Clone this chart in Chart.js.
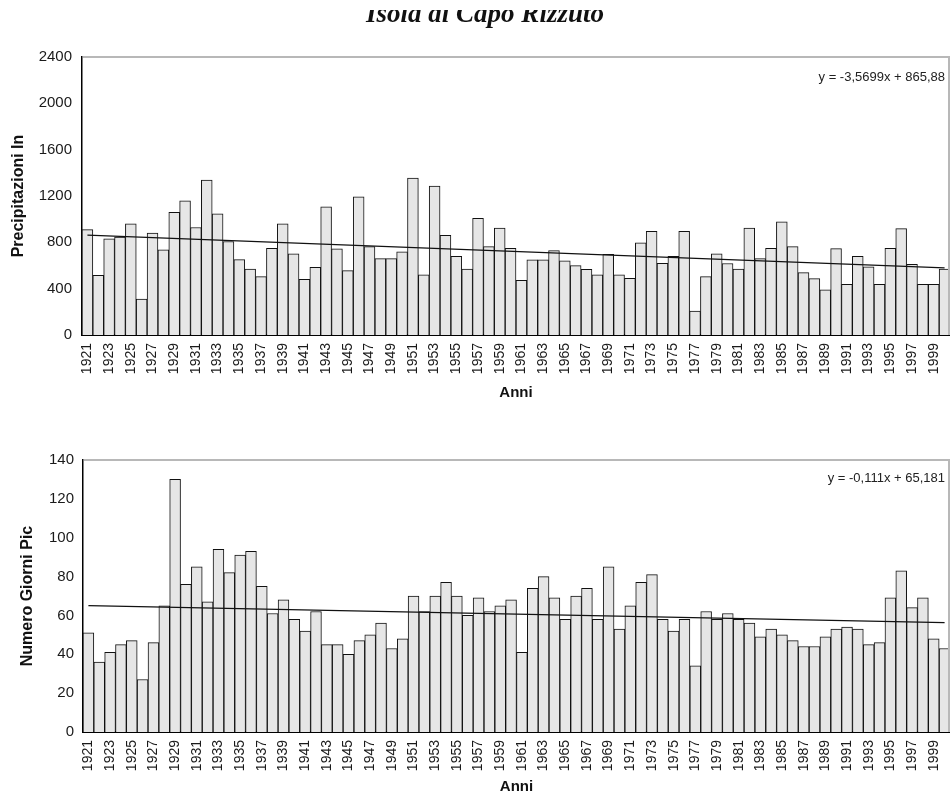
<!DOCTYPE html>
<html>
<head>
<meta charset="utf-8">
<script src="https://cdn.jsdelivr.net/npm/chart.js@4/dist/chart.umd.min.js"></script>
<style>
  html, body { margin: 0; padding: 0; background: #fff; }
  #wrap { position: relative; width: 950px; height: 798px; overflow: hidden; }
  canvas { position: absolute; left: 0; }
  #rain { top: 0; }
  #days { top: 400px; }
</style>
</head>
<body>
<div id="wrap">
  <canvas id="rain" width="950" height="400"></canvas>
  <canvas id="days" width="950" height="398"></canvas>
</div>
<script>
// Station and axis captions
const stationName = 'Isola di Capo Rizzuto';
const rainAxisTitle = 'Precipitazioni In';
const daysAxisTitle = 'Numero Giorni Pic';
const yearsAxisTitle = 'Anni';

// Years of the record (categories)
const years = [
  '1921','1922','1923','1924','1925','1926','1927','1928','1929','1930',
  '1931','1932','1933','1934','1935','1936','1937','1938','1939','1940',
  '1941','1942','1943','1944','1945','1946','1947','1948','1949','1950',
  '1951','1952','1953','1954','1955','1956','1957','1958','1959','1960',
  '1961','1962','1963','1964','1965','1966','1967','1968','1969','1970',
  '1971','1972','1973','1974','1975','1976','1977','1978','1979','1980',
  '1981','1982','1983','1984','1985','1986','1987','1988','1989','1990',
  '1991','1992','1993','1994','1995','1996','1997','1998','1999','2000'
];

// Annual precipitation (mm)
const rainfall = [
  910, 515, 830, 845, 960, 310, 880, 735, 1060, 1158,
  928, 1337, 1046, 807, 651, 570, 504, 749, 960, 700,
  480, 585, 1106, 743, 556, 1193, 763, 660, 660, 717,
  1354, 519, 1285, 861, 680, 570, 1008, 763, 922, 749,
  472, 648, 648, 729, 640, 599, 567, 519, 697, 519,
  490, 795, 896, 619, 680, 896, 207, 504, 700, 617,
  570, 922, 660, 749, 977, 763, 539, 487, 389, 746,
  438, 680, 588, 438, 749, 919, 611, 438, 438, 570
];

// Number of rainy days per year
const rainyDays = [
  51, 36, 41, 45, 47, 27, 46, 65, 130, 76,
  85, 67, 94, 82, 91, 93, 75, 61, 68, 58,
  52, 62, 45, 45, 40, 47, 50, 56, 43, 48,
  70, 62, 70, 77, 70, 60, 69, 62, 65, 68,
  41, 74, 80, 69, 58, 70, 74, 58, 85, 53,
  65, 77, 81, 58, 52, 58, 34, 62, 58, 61,
  58, 56, 49, 53, 50, 47, 44, 44, 49, 53,
  54, 53, 45, 46, 69, 83, 64, 69, 48, 43
];

// Linear trend equations (x = 1 for the first year)
const rainSlope = -3.5699, rainIntercept = 865.88;
const rainEquation = 'y = -3,5699x + 865,88';
const daysSlope = -0.111, daysIntercept = 65.181;
const daysEquation = 'y = -0,111x + 65,181';

// Y axis tick settings
const rainTicks = { max: 2400, step: 400 };
const daysTicks = { max: 140, step: 20 };

// Trend line: end points from the equation, straight segment between them
function trendPoints(slope, intercept) {
  const n = years.length;
  return years.map((_, i) => (i === 0 || i === n - 1) ? slope * (i + 1) + intercept : null);
}

const SANS = '"Liberation Sans", Arial, Helvetica, sans-serif';

// Grey top/right frame of the plot area plus the trend equation text
const frameAndEquation = {
  id: 'frameAndEquation',
  afterDatasetsDraw(chart, args, opts) {
    const { ctx, chartArea: a } = chart;
    ctx.save();
    ctx.strokeStyle = '#b8b8b8';
    ctx.lineWidth = 2;
    ctx.beginPath();
    ctx.moveTo(a.left + 1, a.top);
    ctx.lineTo(a.right - 1, a.top);
    ctx.lineTo(a.right - 1, a.bottom);
    ctx.stroke();
    ctx.font = '13px ' + SANS;
    ctx.fillStyle = '#222';
    ctx.textAlign = 'right';
    ctx.textBaseline = 'middle';
    ctx.fillText(opts.text, a.right - 5, a.top + opts.dy);
    ctx.restore();
  }
};

// Station name above the first chart, its upper part cut by a white band
const clippedTitle = {
  id: 'clippedTitle',
  afterDraw(chart, args, opts) {
    if (!opts.text) return;
    const { ctx, width } = chart;
    ctx.save();
    ctx.beginPath();
    ctx.rect(0, opts.clipTop, width, 40);
    ctx.clip();
    ctx.font = 'italic bold 27px "Liberation Serif", "Times New Roman", serif';
    ctx.fillStyle = '#111';
    ctx.textAlign = 'center';
    ctx.textBaseline = 'alphabetic';
    ctx.fillText(opts.text, opts.x, opts.baseline);
    ctx.restore();
  }
};

function makeChart(canvasId, cfg) {
  return new Chart(document.getElementById(canvasId), {
    type: 'bar',
    data: {
      labels: years,
      datasets: [
        {
          type: 'line',
          data: trendPoints(cfg.slope, cfg.intercept),
          borderColor: '#111',
          borderWidth: 1.3,
          pointRadius: 0,
          spanGaps: true,
          order: 0
        },
        {
          data: cfg.values,
          backgroundColor: '#e6e6e6',
          borderColor: '#111',
          borderWidth: 1,
          barPercentage: 1,
          categoryPercentage: 1,
          order: 1
        }
      ]
    },
    options: {
      responsive: false,
      animation: false,
      layout: { padding: { top: cfg.top, right: 0, left: 0, bottom: 0 } },
      plugins: {
        legend: { display: false },
        tooltip: { enabled: false },
        frameAndEquation: { text: cfg.equation, dy: cfg.eqDy },
        clippedTitle: cfg.title || {}
      },
      scales: {
        x: {
          grid: { display: false, drawTicks: false },
          border: { display: true, color: '#000', width: 2 },
          afterFit(scale) {
            scale.height = cfg.xHeight;
            scale.paddingLeft = 0;
            scale.paddingRight = 0;
          },
          ticks: {
            autoSkip: false,
            minRotation: 90,
            maxRotation: 90,
            padding: 8,
            color: '#1a1a1a',
            font: { family: SANS, size: 14 },
            callback(value, index) { return index % 2 === 0 ? years[index] : ''; }
          },
          title: {
            display: true,
            text: yearsAxisTitle,
            color: '#111',
            font: { family: SANS, size: 15, weight: 'bold', lineHeight: 1 },
            padding: { top: 0, bottom: cfg.xTitlePad }
          }
        },
        y: {
          min: 0,
          max: cfg.ticks.max,
          grid: { display: false, drawTicks: false },
          border: { display: true, color: '#000', width: 1.5 },
          afterFit(scale) { scale.width = cfg.yWidth; },
          ticks: {
            stepSize: cfg.ticks.step,
            padding: cfg.yPad,
            color: '#1a1a1a',
            font: { family: SANS, size: 15 },
            callback(value) { return String(value); }
          },
          title: {
            display: true,
            text: cfg.yTitle,
            color: '#111',
            font: { family: SANS, size: 16, weight: 'bold', lineHeight: 1 },
            padding: { top: cfg.yTitlePad, bottom: 0 }
          }
        }
      }
    },
    plugins: [frameAndEquation, clippedTitle]
  });
}

makeChart('rain', {
  values: rainfall,
  slope: rainSlope,
  intercept: rainIntercept,
  equation: rainEquation,
  eqDy: 20,
  ticks: rainTicks,
  yTitle: rainAxisTitle,
  top: 57,
  xHeight: 65,
  xTitlePad: 0,
  yWidth: 82,
  yPad: 10,
  yTitlePad: 11,
  title: { text: stationName, x: 485, baseline: 21.5, clipTop: 10 }
});

makeChart('days', {
  values: rainyDays,
  slope: daysSlope,
  intercept: daysIntercept,
  equation: daysEquation,
  eqDy: 18,
  ticks: daysTicks,
  yTitle: daysAxisTitle,
  top: 60,
  xHeight: 66,
  xTitlePad: 3.5,
  yWidth: 83,
  yPad: 9,
  yTitlePad: 20
});
</script>
</body>
</html>
